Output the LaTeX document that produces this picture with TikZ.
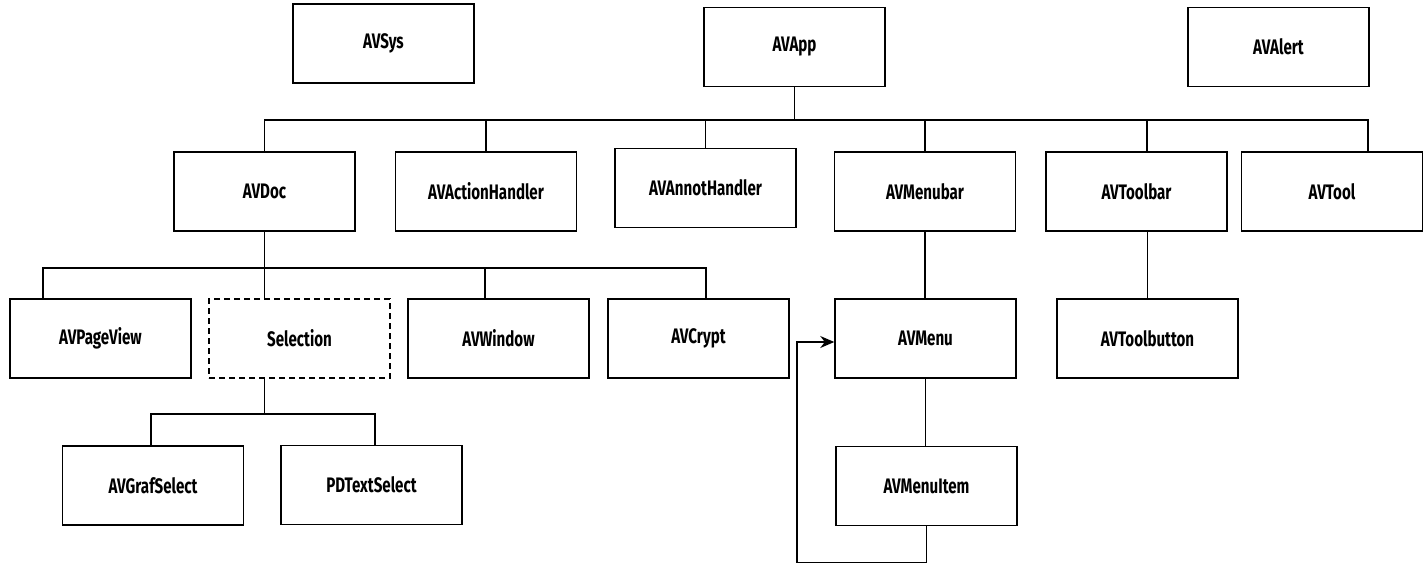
\documentclass[tikz,border=0pt]{standalone}
\usepackage{fontspec}
\setsansfont{Fira Sans}[FakeStretch=0.72]
\usepackage{tikz}
\usetikzlibrary{arrows.meta}

\tikzset{
  classbox/.style={draw, line width=1.5pt, minimum width=181pt, minimum height=79pt,
                   inner sep=0pt, font=\sffamily\bfseries\fontsize{21}{23}\selectfont},
  abstractbox/.style={classbox, dashed, line width=1.2pt, dash pattern=on 6pt off 4pt},
  link/.style={line width=1.5pt}
}

\begin{document}
\begin{tikzpicture}[x=1pt,y=-1pt]
                              \useasboundingbox (0,0) rectangle (1424,564);

                              % Top level
                              \node[classbox] (sys) at (383.5,43.5) {AVSys};
                              \node[classbox] (app) at (794.5,47) {AVApp};
                              \node[classbox] (alert) at (1278.5,47) {AVAlert};

                              % Second level
                              \node[classbox] (doc) at (264.5,191.5) {AVDoc};
                              \node[classbox] (action) at (486,191.5) {AVActionHandler};
                              \node[classbox] (annot) at (705.5,188) {AVAnnotHandler};
                              \node[classbox] (menubar) at (925,191.5) {AVMenubar};
                              \node[classbox] (toolbar) at (1136.5,191.5) {AVToolbar};
                              \node[classbox] (tool) at (1332,191.5) {AVTool};

                              % Third level
                              \node[classbox] (pageview) at (100.5,338.5) {AVPageView};
                              \node[abstractbox] (selection) at (299.5,338.5) {Selection};
                              \node[classbox] (window) at (498.5,338.5) {AVWindow};
                              \node[classbox] (crypt) at (698.5,338.5) {AVCrypt};
                              \node[classbox] (menu) at (925.5,338.5) {AVMenu};
                              \node[classbox] (toolbutton) at (1147.5,338.5) {AVToolbutton};

                              % Fourth level
                              \node[classbox] (grafselect) at (153,485.5) {AVGrafSelect};
                              \node[classbox] (textselect) at (371.5,485) {PDTextSelect};
                              \node[classbox] (menuitem) at (926.5,486) {AVMenuItem};

                              % Bus lines
                              \coordinate (busapp) at (0,120);
                              \coordinate (busdoc) at (0,268);
                              \coordinate (bussel) at (0,414);

                              % AVApp children
                              \draw[link] (app.south) -- (app.south |- busapp);
                              \draw[link] (doc.north) |- (app.south |- busapp);
                              \draw[link] (action.north) |- (app.south |- busapp);
                              \draw[link] (annot.north) |- (app.south |- busapp);
                              \draw[link] (menubar.north) |- (app.south |- busapp);
                              \draw[link] ([xshift=10.5pt]toolbar.north) |- (app.south |- busapp);
                              \draw[link] ([xshift=36pt]tool.north) |- (app.south |- busapp);

                              % AVDoc children
                              \draw[link] (doc.south) -- (doc.south |- selection.north);
                              \draw[link] ([xshift=-57.5pt]pageview.north) |- (doc.south |- busdoc);
                              \draw[link] ([xshift=-13.5pt]window.north) |- (doc.south |- busdoc);
                              \draw[link] ([xshift=7.5pt]crypt.north) |- (doc.south |- busdoc);

                              % Selection children
                              \draw[link] (doc.south |- selection.south) -- (doc.south |- bussel);
                              \draw[link] ([xshift=-2pt]grafselect.north) |- (doc.south |- bussel);
                              \draw[link] ([xshift=3.5pt]textselect.north) |- (doc.south |- bussel);

                              % Menus and tools
                              \draw[link] (menubar.south) -- (menubar.south |- menu.north);
                              \draw[link] (menu.south) -- (menu.south |- menuitem.north);
                              \draw[link] (toolbar.south -| toolbutton.north) -- (toolbutton.north);

                              % Menu items hold submenus
                              \draw[link,-{Stealth[length=14pt,width=12pt]}] (menuitem.south) -- ++(0,36)
                              -| ([xshift=-37.5pt,yshift=-3.5pt]menu.west) -- ([yshift=-3.5pt]menu.west);
                        \end{tikzpicture}
\end{document}
